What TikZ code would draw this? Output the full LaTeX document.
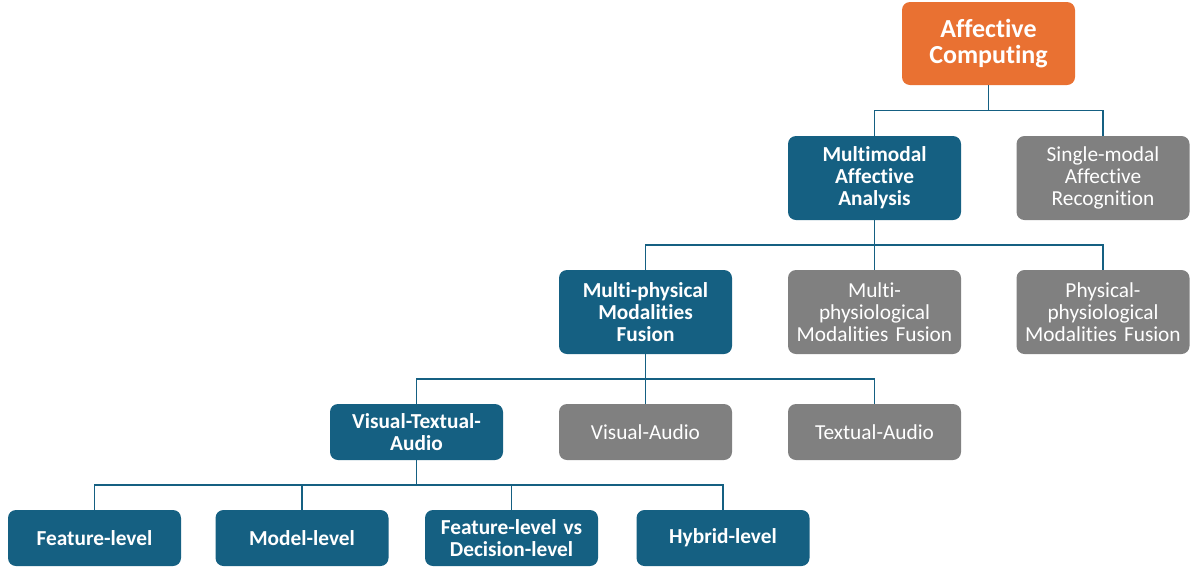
\documentclass[tikz,border=0pt]{standalone}
\usepackage{fontspec}
\setmainfont{Carlito}[Ligatures={NoCommon}]
\usetikzlibrary{calc}
\definecolor{rootorange}{HTML}{E97132}
\definecolor{mainblue}{HTML}{156082}
\definecolor{sidegrey}{HTML}{808080}
\begin{document}
\begin{tikzpicture}[x=0.75pt,y=-0.75pt,
  box/.style={rounded corners=6pt, text=white, align=center,
    minimum width=129.75pt, text width=122pt, inner sep=0pt,
    font=\fontsize{16}{16.5}\selectfont},
  tall/.style={minimum height=63pt},
  short/.style={minimum height=42pt},
  rootbox/.style={box, fill=rootorange, minimum height=62.25pt,
    font=\fontsize{19.5}{19.5}\selectfont\bfseries},
  bluebox/.style={box, fill=mainblue, font=\fontsize{16}{16.5}\selectfont\bfseries},
  greybox/.style={box, fill=sidegrey},
  conn/.style={draw=mainblue, line width=1.1pt}]
\useasboundingbox (0,0) rectangle (1200,569);

% root
\node[rootbox] (root) at (988.5,43.5) {Affective\\Computing};

% first level
\node[bluebox,tall] (mma) at (874.5,178) {Multimodal\\Affective\\Analysis};
\node[greybox,tall] (sar) at (1103,178) {Single-modal\\Affective\\Recognition};

% second level
\node[bluebox,tall] (mpf) at (645.5,312) {Multi-physical\\Modalities\\Fusion};
\node[greybox,tall] (mpsf) at (874.5,312) {Multi-\\physiological\\Modalities Fusion};
\node[greybox,tall] (ppf) at (1103,312) {Physical-\\physiological\\Modalities Fusion};

% third level
\node[bluebox,short] (vta) at (416.5,432) {Visual-Textual-\\Audio};
\node[greybox,short] (va) at (645.5,432) {Visual-Audio};
\node[greybox,short] (ta) at (874.5,432) {Textual-Audio};

% fourth level
\node[bluebox,short] (fl) at (94.5,538) {Feature-level};
\node[bluebox,short] (ml) at (302,538) {Model-level};
\node[bluebox,short] (fd) at (511.5,538) {Feature-level vs\\Decision-level};
\node[bluebox,short] (hl) at (723,538) {Hybrid-level};

% elbow connectors: down from parent, across the bus, down to child
\foreach \p/\c in {root/mma, root/sar,
                   mma/mpf, mma/mpsf, mma/ppf,
                   mpf/vta, mpf/va, mpf/ta,
                   vta/fl, vta/ml, vta/fd, vta/hl}
  \draw[conn] (\p.south) -- ($(\p.south)!0.5!(\p.south |- \c.north)$) -| (\c.north);
\end{tikzpicture}
\end{document}
